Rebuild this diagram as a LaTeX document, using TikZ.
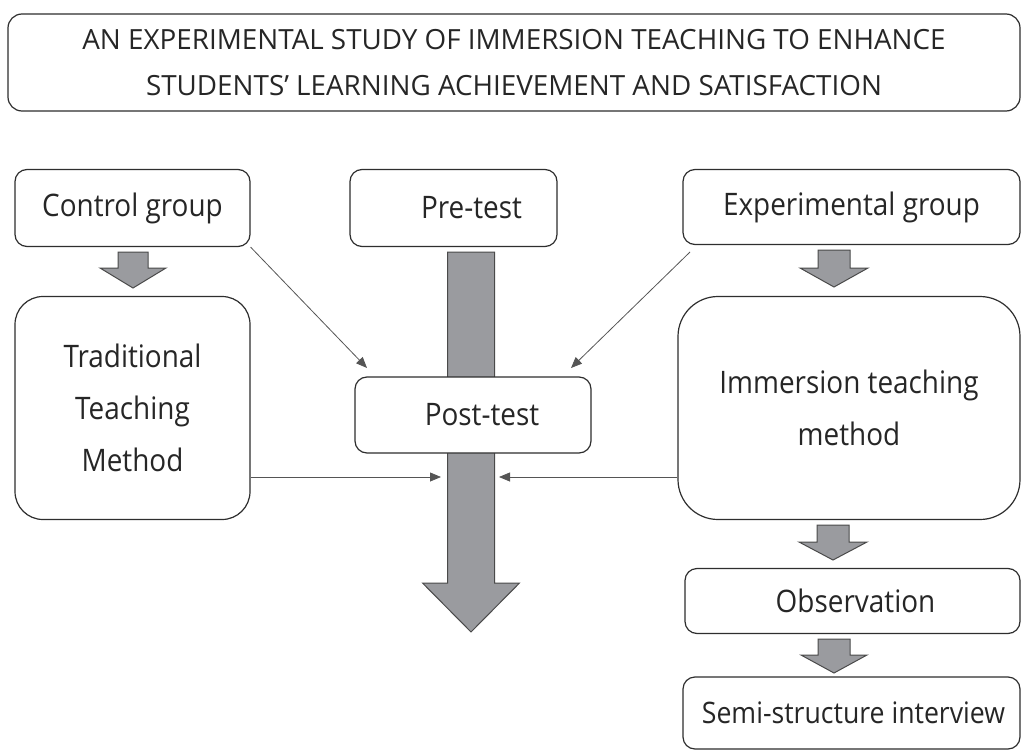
\documentclass[tikz,border=0pt]{standalone}
\usepackage{fontspec}
\setmainfont{Open Sans}
\newfontfamily\bodyfont{Open Sans}[FakeStretch=0.9]
\usetikzlibrary{arrows.meta}
\definecolor{arrowfill}{HTML}{9A9B9F}
\definecolor{arrowline}{HTML}{4A4A4A}
\definecolor{boxline}{HTML}{2E2E2E}
\definecolor{thinline}{HTML}{555555}
\definecolor{textcol}{HTML}{262626}
\newcommand\blockdown[6]{% x, ytop, yhead, ytip, half shaft, half head
  \filldraw[blockarrow] (#1-#5,#2) -- (#1+#5,#2) -- (#1+#5,#3) -- (#1+#6,#3)
    -- (#1,#4) -- (#1-#6,#3) -- (#1-#5,#3) -- cycle;}
\begin{document}
\begin{tikzpicture}[x=1pt,y=-1pt,
  box/.style={draw=boxline, line width=1.2pt, rounded corners=12pt, fill=white,
    text=textcol, inner sep=0pt, align=center, font=\bodyfont\fontsize{31}{52}\selectfont},
  blockarrow/.style={fill=arrowfill, draw=arrowline, line width=1pt},
  thinarrow/.style={draw=thinline, line width=0.8pt, -{Triangle[length=11pt,width=9pt]}}]
\useasboundingbox (0,0) rectangle (1023,752);
% title
\node[box, rounded corners=14pt, minimum width=1012pt, minimum height=97pt,
  font=\fontsize{27.8}{46.5}\selectfont] (title) at (514,62.5)
  {\raisebox{0pt}[0pt][0pt]{}AN EXPERIMENTAL STUDY OF IMMERSION TEACHING TO ENHANCE\\STUDENTS’ LEARNING ACHIEVEMENT AND SATISFACTION};
% top row
\node[box, minimum width=235pt, minimum height=77pt] (ctrl) at (132.5,208) {Control group};
\node[box, minimum width=207pt, minimum height=77pt] (pre) at (453.5,208) {\hspace*{36pt}Pre-test};
\node[box, minimum width=337pt, minimum height=75pt] (exp) at (851.5,207) {Experimental group};
% block arrows
\blockdown{133}{252}{268}{288}{15}{33}
\blockdown{834}{250}{268}{287}{16}{34}
\blockdown{471}{252}{583}{632}{23.5}{48.5}
% middle row
\node[box, rounded corners=28pt, minimum width=235pt, minimum height=223pt] (trad) at (132.5,408)
  {Traditional\\Teaching\\Method};
\node[box, rounded corners=40pt, minimum width=342pt, minimum height=223pt] (imm) at (849,408)
  {Immersion teaching\\method};
\node[box, minimum width=236pt, minimum height=76pt] (post) at (473,415) {\hspace*{18pt}Post-test};
% lower right
\blockdown{833}{525}{542}{560}{16}{34}
\node[box, minimum width=335pt, minimum height=65pt] (obs) at (852.5,601) {\hspace*{6pt}Observation};
\blockdown{834}{639}{655}{673}{16}{33}
\node[box, minimum width=337pt, minimum height=72pt, font=\bodyfont\fontsize{29.6}{52}\selectfont]
  (semi) at (851.5,713) {\hspace*{4pt}Semi-structure interview};
% thin connectors
\coordinate (pl) at (367,368);
\coordinate (pr) at (571,368);
\coordinate (hl) at (441,477);
\coordinate (hr) at (499,477);
\coordinate (es) at (690,252);
\draw[thinarrow] (ctrl.south east) -- (pl);
\draw[thinarrow] (es) -- (pr);
\draw[thinarrow] (trad.east |- hl) -- (hl);
\draw[thinarrow] (imm.west |- hr) -- (hr);
\end{tikzpicture}
\end{document}
